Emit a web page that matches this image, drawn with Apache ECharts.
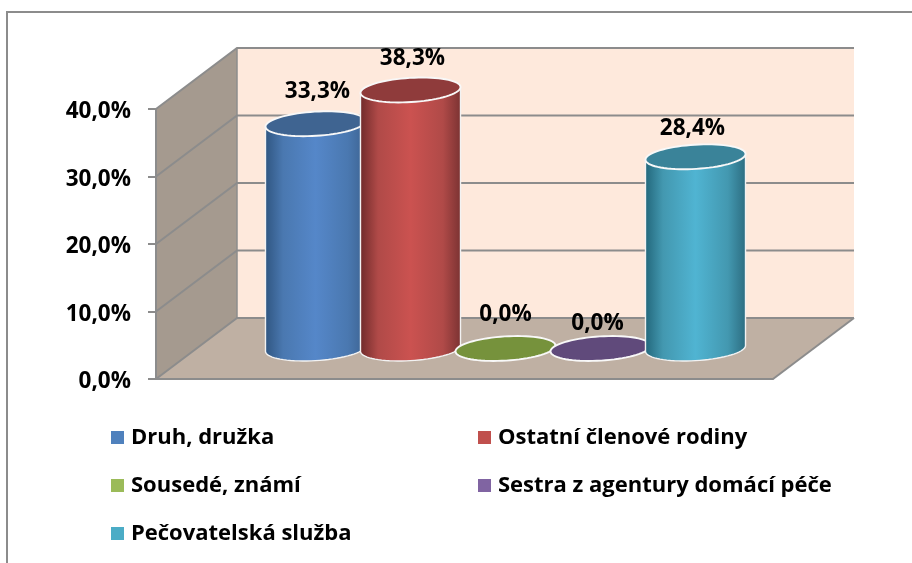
<!DOCTYPE html>
<html><head><meta charset="utf-8">
<style>html,body{margin:0;padding:0;background:#fff}#c{width:912px;height:563px}</style>
<script src="https://cdn.jsdelivr.net/npm/echarts@6/dist/echarts.min.js"></script>
</head><body><div id="c"></div>
<script>
const categories = ['Druh, družka','Ostatní členové rodiny','Sousedé, známí','Sestra z agentury domácí péče','Pečovatelská služba'];
const values = [33.3,38.3,0,0,28.4];
const yTicks = [0,10,20,30,40];

const FONT = '"Open Sans", "Noto Sans", sans-serif';
const legendColors = ['#4f81bd','#c0504d','#9bbb59','#8064a2','#4bacc6'];
const capColors = ['#3f6491','#8f3b3b','#76923c','#604a7b','#3a8399'];
const edgeL = ['#2f5580','#6e2a2a','#5a7030','#4a3a60','#22667a'];
const mid = ['#4a78b0','#b04a48','#8aa850','#7058a0','#4398b0'];
const bright = ['#5587c9','#cb5250','#9bbb59','#8064a2','#50b4d2'];
const edgeR = ['#3c6290','#7a3232','#5a7030','#4a3a60','#2c6c80'];
const labelShift = [[2,-32],[2,-31],[0,-34],[-3,-25],[-3,-28]];
const DX = 81, DY = -61, A = 50.1, B = 12.1, TH = 3.5*Math.PI/180;
const GRAY = '#8c8c8c';

function ell(cx,cy,t){
  return [cx + A*Math.cos(t)*Math.cos(TH) + B*Math.sin(t)*Math.sin(TH),
          cy - A*Math.cos(t)*Math.sin(TH) + B*Math.sin(t)*Math.cos(TH)];
}
const T0 = Math.atan(B/A*Math.tan(TH));

function cylinder(i){
  return function(params, api){
    const base = api.coord([api.value(0), 0]);
    const top = api.coord([api.value(0), api.value(1)]);
    const cx = base[0], yb = base[1], yt = top[1];
    const capPts = [];
    for(let k=0;k<72;k++) capPts.push(ell(cx,yt,k/72*2*Math.PI));
    const children = [];
    if(yb-yt>0.5){
      const body = [ell(cx,yt,T0+Math.PI)];
      for(let k=0;k<=36;k++) body.push(ell(cx,yb,T0+Math.PI-k/36*Math.PI));
      body.push(ell(cx,yt,T0));
      children.push({type:'polygon',shape:{points:body},style:{
        fill:new echarts.graphic.LinearGradient(0,0,1,0,[
          {offset:0,color:edgeL[i]},{offset:0.18,color:mid[i]},{offset:0.5,color:bright[i]},
          {offset:0.82,color:mid[i]},{offset:1,color:edgeR[i]}]),
        stroke:'#f2f2f2',lineWidth:1.4}});
    }
    children.push({type:'polygon',shape:{points:capPts},style:{fill:capColors[i],stroke:'#f8f8f8',lineWidth:1.9}});
    children.push({type:'text',style:{
      text:values[i].toFixed(1).replace('.',',')+'%',
      x:cx+labelShift[i][0],y:yt+labelShift[i][1],align:'center',verticalAlign:'middle',
      font:'bold 22.5px '+FONT,fill:'#000'}});
    return {type:'group',children};
  };
}

const cylSeries = categories.map((name,i)=>({
  name,type:'custom',xAxisIndex:1,yAxisIndex:1,z:5,
  itemStyle:{color:legendColors[i]},
  data:[[i,values[i]]],
  encode:{x:0,y:1},
  renderItem:cylinder(i),
  silent:true
}));

const wallSeries = {
  type:'custom',xAxisIndex:0,yAxisIndex:0,z:1,silent:true,
  data:[[0,40]],
  encode:{x:0,y:1},
  renderItem(params,api){
    const a = api.coord([0,0]), b = api.coord([1,0]), t = api.coord([0,40]);
    const tb = [t[0]+DX,t[1]+DY], ab = [a[0]+DX,a[1]+DY], bb = [b[0]+DX,b[1]+DY], rt=[b[0]+DX,t[1]+DY];
    return {type:'group',children:[
      {type:'polygon',shape:{points:[tb,rt,bb,ab]},style:{fill:'#fee9dc'}},
      {type:'polygon',shape:{points:[a,t,tb,ab]},style:{fill:'#a59a8f'}},
      {type:'polygon',shape:{points:[a,b,bb,ab]},style:{fill:'#bfb0a3'}},
      {type:'polyline',shape:{points:[tb,ab]},style:{stroke:GRAY,lineWidth:1.5,fill:'none'}},
      {type:'polyline',shape:{points:[b,bb]},style:{stroke:GRAY,lineWidth:2,fill:'none'}}
    ]};
  }
};
const gridSeries = {
  type:'custom',xAxisIndex:0,yAxisIndex:0,z:2,silent:true,
  data:yTicks.map(v=>[0,v]),
  encode:{x:0,y:1},
  renderItem(params,api){
    const a = api.coord([0,api.value(1)]), b = api.coord([1,api.value(1)]);
    const ab=[a[0]+DX,a[1]+DY], bb=[b[0]+DX,b[1]+DY];
    return {type:'polyline',shape:{points:[a,ab,bb]},style:{stroke:GRAY,lineWidth:2,fill:'none'}};
  }
};

const legendText = {fontSize:22,fontWeight:'bold',color:'#000',fontFamily:FONT,lineHeight:24,padding:[0,0,0,2]};
const chart = echarts.init(document.getElementById('c'),null,{renderer:'canvas'});
chart.setOption({
  animation:false,
  backgroundColor:'#fff',
  textStyle:{fontFamily:FONT},
  grid:[
    {left:156,top:109,width:617,height:270},
    {left:268,top:78.5,width:475,height:270}
  ],
  xAxis:[
    {type:'value',gridIndex:0,min:0,max:1,axisLabel:{show:false},axisTick:{show:false},splitLine:{show:false},
      axisLine:{show:true,lineStyle:{color:GRAY,width:2}},z:3},
    {type:'category',gridIndex:1,data:categories,show:false}
  ],
  yAxis:[
    {type:'value',gridIndex:0,min:0,max:40,interval:10,splitLine:{show:false},z:3,
      axisLine:{show:true,lineStyle:{color:GRAY,width:2}},
      axisTick:{show:true,length:8,lineStyle:{color:GRAY,width:2}},
      axisLabel:{margin:25,verticalAlign:'top',lineHeight:6,formatter:v=>v.toFixed(1).replace('.',',')+'%',fontSize:22.5,fontWeight:'bold',color:'#000',fontFamily:FONT}},
    {type:'value',gridIndex:1,min:0,max:40,show:false,splitLine:{show:false}}
  ],
  legend:[
    {left:111,top:425.5,orient:'vertical',padding:0,itemWidth:13,itemHeight:13,itemGap:24,icon:'rect',
     data:[categories[0],categories[2],categories[4]],selectedMode:false,textStyle:legendText},
    {left:478,top:425.5,orient:'vertical',padding:0,itemWidth:13,itemHeight:13,itemGap:24,icon:'rect',
     data:[categories[1],categories[3]],selectedMode:false,textStyle:legendText}
  ],
  graphic:[{type:'rect',z:-1,silent:true,shape:{x:7,y:12,width:1000,height:700},style:{fill:'#fff',stroke:'#8c8c8c',lineWidth:2}}],
  series:[wallSeries,gridSeries,...cylSeries]
});
</script></body></html>
